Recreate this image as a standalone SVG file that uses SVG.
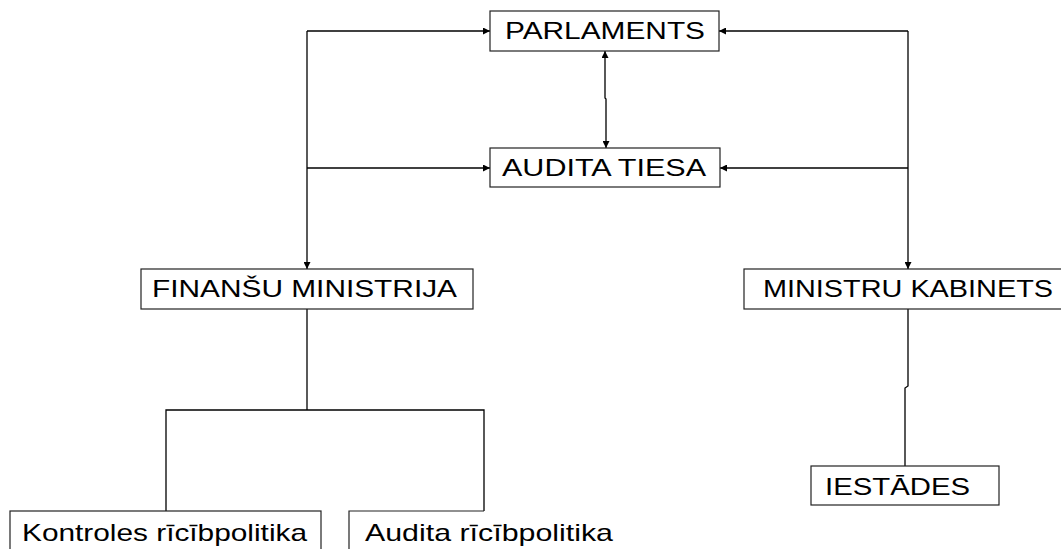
<svg xmlns="http://www.w3.org/2000/svg" width="1061" height="549" viewBox="0 0 1061 549">
<style>
.box{fill:#fff;stroke:#222;stroke-width:1.2}
.lbl{font-family:"Liberation Sans",Arial,sans-serif;font-size:24px;fill:#000}
.ln{fill:none;stroke:#000;stroke-width:1.3}
</style>
<defs>
<marker id="ah" viewBox="0 0 10 10" refX="10" refY="5" markerWidth="8" markerHeight="7" markerUnits="userSpaceOnUse" orient="auto-start-reverse">
<path d="M0,0 L10,5 L0,10 Z" fill="#000"/>
</marker>
</defs>
<rect width="1061" height="549" fill="#fff"/>
<g id="connectors">
<path class="ln" d="M307,31 V269" marker-end="url(#ah)"/>
<path class="ln" d="M307,31 H490" marker-end="url(#ah)"/>
<path class="ln" d="M307,168 H490" marker-end="url(#ah)"/>
<path class="ln" d="M908,31 V269" marker-end="url(#ah)"/>
<path class="ln" d="M908,31 H719" marker-end="url(#ah)"/>
<path class="ln" d="M908,168 H720" marker-end="url(#ah)"/>
<path class="ln" d="M605,51 V98 L606,99 V148" marker-start="url(#ah)" marker-end="url(#ah)"/>
<path class="ln" d="M307,309 V410"/>
<path class="ln" d="M166,511 V410 H484 V511"/>
<path class="ln" d="M908,309 V386 L905,388 V466"/>
</g>
<g id="parlaments">
<rect class="box" x="490" y="11" width="229" height="40"/>
<text class="lbl" x="505" y="39" textLength="200" lengthAdjust="spacingAndGlyphs">PARLAMENTS</text>
</g>
<g id="audita-tiesa">
<rect class="box" x="490" y="148" width="230" height="39"/>
<text class="lbl" x="502" y="176" textLength="204" lengthAdjust="spacingAndGlyphs">AUDITA TIESA</text>
</g>
<g id="finansu-ministrija">
<rect class="box" x="141" y="269" width="332" height="40"/>
<text class="lbl" x="152" y="297" textLength="305" lengthAdjust="spacingAndGlyphs">FINANŠU MINISTRIJA</text>
</g>
<g id="ministru-kabinets">
<rect class="box" x="744" y="269" width="330" height="40"/>
<text class="lbl" x="763" y="297" textLength="290" lengthAdjust="spacingAndGlyphs">MINISTRU KABINETS</text>
</g>
<g id="kontroles">
<rect class="box" x="10" y="511" width="311" height="50"/>
<text class="lbl" x="22" y="541" textLength="285" lengthAdjust="spacingAndGlyphs">Kontroles rīcībpolitika</text>
</g>
<g id="audita-ricibpolitika">
<path class="box" d="M349,561 V511 H484" fill="none"/>
<text class="lbl" x="365" y="541" textLength="248" lengthAdjust="spacingAndGlyphs">Audita rīcībpolitika</text>
</g>
<g id="iestades">
<rect class="box" x="811" y="466" width="188" height="39"/>
<text class="lbl" x="825" y="495" textLength="145" lengthAdjust="spacingAndGlyphs">IESTĀDES</text>
</g>
</svg>
